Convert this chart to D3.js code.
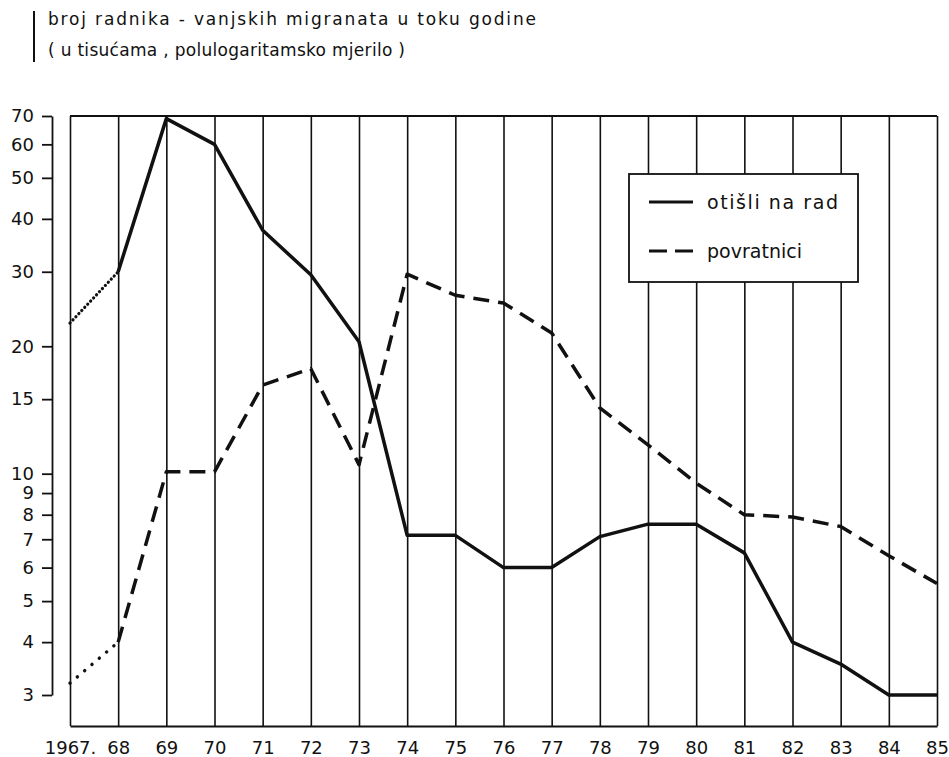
<!DOCTYPE html>
<html>
<head>
<meta charset="utf-8">
<script src="https://cdn.jsdelivr.net/npm/d3@7"></script>
<style>
  html, body { margin: 0; padding: 0; background: #fff; }
  svg { display: block; }
  text { font-family: "DejaVu Sans", sans-serif; fill: #111; }
</style>
</head>
<body>
<svg id="chart" width="949" height="757"></svg>
<script>
// ---- data ----
const years = [1967, 1968, 1969, 1970, 1971, 1972, 1973, 1974, 1975, 1976, 1977, 1978, 1979, 1980, 1981, 1982, 1983, 1984, 1985];
const yearLabels = ["1967.", "68", "69", "70", "71", "72", "73", "74", "75", "76", "77", "78", "79", "80", "81", "82", "83", "84", "85"];
const departed = [22.7, 30, 69, 60, 37.6, 29.5, 20.5, 7.15, 7.15, 6.0, 6.0, 7.1, 7.6, 7.6, 6.5, 4.0, 3.55, 3.0, 3.0];
const returnees = [3.2, 4.0, 10.1, 10.1, 16.2, 17.7, 10.5, 29.6, 26.4, 25.3, 21.5, 14.3, 11.7, 9.5, 8.0, 7.9, 7.5, 6.4, 5.5];
const yTicks = [3, 4, 5, 6, 7, 8, 9, 10, 15, 20, 30, 40, 50, 60, 70];
const titleLines = ["broj radnika - vanjskih migranata u toku godine", "( u tisućama , polulogaritamsko mjerilo )"];
const legendLabels = ["otišli na rad", "povratnici"];

// ---- layout ----
const svg = d3.select("#chart");
const x = d3.scaleLinear().domain([1967, 1985]).range([70, 937]);
const y = d3.scaleLog().domain([3, 70]).range([695, 116]);
const plotBottom = 726;
const axisX = 52;
const ink = "#111";

// title
svg.append("line").attr("x1", 34).attr("x2", 34).attr("y1", 11).attr("y2", 62)
  .attr("stroke", ink).attr("stroke-width", 2);
const titleW = [488, 357];
const titleY = [25, 56];
titleLines.forEach((t, i) => {
  svg.append("text").attr("x", 48).attr("y", titleY[i])
    .attr("font-size", 17).attr("textLength", titleW[i]).attr("lengthAdjust", "spacing")
    .text(t);
});

// x axis with vertical grid lines
const xAxis = d3.axisBottom(x)
  .tickValues(years)
  .tickFormat((d, i) => yearLabels[i])
  .tickSizeInner(-(plotBottom - y(70)))
  .tickSizeOuter(0)
  .tickPadding(15);
const gx = svg.append("g").attr("transform", `translate(0,${plotBottom})`).call(xAxis);
gx.selectAll("line").attr("stroke", ink).attr("stroke-width", 1.6);
gx.select(".domain").attr("stroke", ink).attr("stroke-width", 1.8);
gx.selectAll("text").attr("font-size", 18).attr("font-family", "DejaVu Sans, sans-serif").attr("fill", ink);

// top border
svg.append("line").attr("x1", x(1967)).attr("x2", x(1985)).attr("y1", y(70)).attr("y2", y(70))
  .attr("stroke", ink).attr("stroke-width", 1.8);

// y axis
const yAxis = d3.axisLeft(y).tickValues(yTicks).tickFormat(d3.format("d"))
  .tickSizeInner(10).tickSizeOuter(0).tickPadding(8);
const gy = svg.append("g").attr("transform", `translate(${axisX},0)`).call(yAxis);
gy.selectAll("line").attr("stroke", ink).attr("stroke-width", 1.8);
gy.select(".domain").attr("stroke", ink).attr("stroke-width", 1.8);
gy.selectAll("text").attr("font-size", 18).attr("font-family", "DejaVu Sans, sans-serif").attr("fill", ink);

// lines
const line = d3.line().x(d => x(d[0])).y(d => y(d[1]));
const dep = years.map((yr, i) => [yr, departed[i]]);
const ret = years.map((yr, i) => [yr, returnees[i]]);

svg.append("path").datum(dep.slice(0, 2)).attr("d", line)
  .attr("fill", "none").attr("stroke", ink).attr("stroke-width", 3.2)
  .attr("stroke-linecap", "round").attr("stroke-dasharray", "0.1 4.2");
svg.append("path").datum(dep.slice(1)).attr("d", line)
  .attr("fill", "none").attr("stroke", ink).attr("stroke-width", 3.5)
  .attr("stroke-linejoin", "round");

svg.append("path").datum(ret.slice(0, 2)).attr("d", line)
  .attr("fill", "none").attr("stroke", ink).attr("stroke-width", 3.4)
  .attr("stroke-linecap", "round").attr("stroke-dasharray", "0.1 9.5");
svg.append("path").datum(ret.slice(1)).attr("d", line)
  .attr("fill", "none").attr("stroke", ink).attr("stroke-width", 3.5)
  .attr("stroke-linejoin", "round").attr("stroke-dasharray", "16 9");

// legend
const lg = svg.append("g");
lg.append("rect").attr("x", 629).attr("y", 174).attr("width", 229).attr("height", 108)
  .attr("fill", "#fff").attr("stroke", ink).attr("stroke-width", 1.8);
const legendY = [202, 251];
const legendW = [131, 95];
lg.append("line").attr("x1", 649).attr("x2", 693).attr("y1", legendY[0]).attr("y2", legendY[0])
  .attr("stroke", ink).attr("stroke-width", 3.2);
lg.append("line").attr("x1", 649).attr("x2", 693).attr("y1", legendY[1]).attr("y2", legendY[1])
  .attr("stroke", ink).attr("stroke-width", 3.2).attr("stroke-dasharray", "18 8");
legendLabels.forEach((t, i) => {
  lg.append("text").attr("x", 707).attr("y", legendY[i] + 7).attr("font-size", 19)
    .attr("textLength", legendW[i]).attr("lengthAdjust", "spacing").text(t);
});
</script>
</body>
</html>
